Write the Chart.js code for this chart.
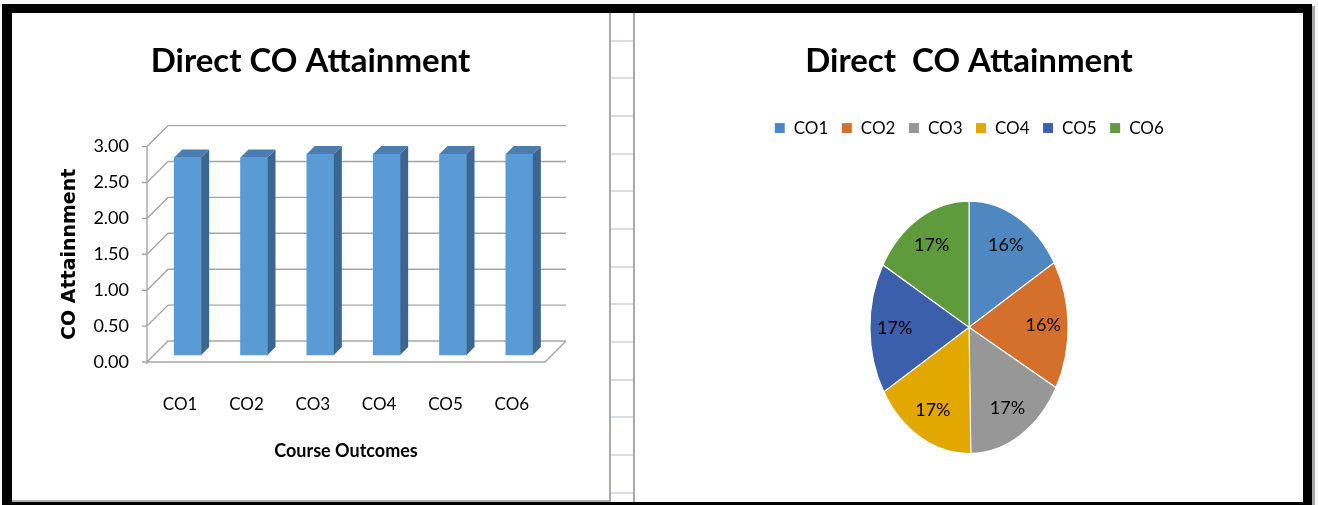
<!DOCTYPE html>
<html>
<head>
<meta charset="utf-8">
<script src="https://cdn.jsdelivr.net/npm/chart.js@4.4.1/dist/chart.umd.min.js"></script>
<style>
  html, body { margin:0; padding:0; }
  body { width:1318px; height:505px; overflow:hidden; background:#f6f6f6; position:relative; }
  .abs { position:absolute; }
  #frame { left:2px; top:4px; width:1310px; height:501px; background:#000; }
  #shadow { left:1312px; top:6px; width:3px; height:499px; background:#a8a8a8; }
  #lp { left:12px; top:13px; width:597px; height:487px; background:#fff; border-right:2px solid #a9a9a9; border-bottom:2px solid #b0b0b0; overflow:hidden; }
  #gap { left:611px; top:13px; width:22px; height:489px; background-color:#fff;
         background-image:repeating-linear-gradient(to bottom, transparent 0px, transparent 26.67px, #d9dde8 26.67px, #d9dde8 28.67px, transparent 28.67px, transparent 37.67px); }
  #gapline { left:633px; top:13px; width:2px; height:489px; background:#a9a9a9; }
  #rp { left:635px; top:13px; width:668px; height:489px; background:#fff; overflow:hidden; }
  canvas { display:block; }
</style>
</head>
<body>
<div id="frame" class="abs"></div>
<div id="shadow" class="abs"></div>
<div id="lp" class="abs"><canvas id="barChart" width="597" height="487"></canvas></div>
<div id="gap" class="abs"></div>
<div id="gapline" class="abs"></div>
<div id="rp" class="abs"><canvas id="pieChart" width="668" height="495"></canvas></div>
<script>
// ---- data ----
const categories = ['CO1', 'CO2', 'CO3', 'CO4', 'CO5', 'CO6'];
const attainment = [2.75, 2.75, 2.80, 2.80, 2.80, 2.80];
const yTicks = [0, 0.5, 1.0, 1.5, 2.0, 2.5, 3.0];
const barTitle = 'Direct CO Attainment';
const pieTitle = 'Direct  CO Attainment';
const yAxisTitle = 'CO Attainnment';
const xAxisTitle = 'Course Outcomes';
const sliceColors = ['#4f87c0', '#d4702b', '#979797', '#e3a800', '#3b5fab', '#5f9a3c'];

// ---- styles ----
const FONT = 'Lato';
const barFront = '#5b9bd5', barSide = '#3a6690', barTop = '#4a7db2';
const gridColor = '#a6a6a6';
const DEPTH = 21;          // back-wall offset of the 3D frame
const BAR_SHIFT = [7.5, -7];
const BAR_DEPTH = 8;
const yStretch = 1.275;

const bar3d = {
  id: 'bar3d',
  beforeDatasetsDraw(chart) {
    const { ctx, chartArea: { left, right }, scales: { y } } = chart;
    const yTop = y.getPixelForValue(y.max), y0 = y.getPixelForValue(0);
    ctx.save();
    ctx.strokeStyle = gridColor;
    ctx.lineWidth = 1.4;
    ctx.beginPath();
    ctx.moveTo(left, yTop); ctx.lineTo(left, y0 + 2);
    y.ticks.forEach(t => {
      const py = y.getPixelForValue(t.value);
      ctx.moveTo(left - 5, py); ctx.lineTo(left, py);
      ctx.moveTo(left, py); ctx.lineTo(left + DEPTH, py - DEPTH); ctx.lineTo(right + DEPTH, py - DEPTH);
    });
    ctx.moveTo(left, y0); ctx.lineTo(right, y0); ctx.lineTo(right + DEPTH, y0 - DEPTH);
    ctx.stroke();
    ctx.restore();
    ctx.save();
    ctx.translate(BAR_SHIFT[0], BAR_SHIFT[1]);
  },
  afterDatasetsDraw(chart) {
    const ctx = chart.ctx, d = BAR_DEPTH;
    chart.getDatasetMeta(0).data.forEach(b => {
      const l = b.x - b.width / 2, r = b.x + b.width / 2, t = b.y, bt = b.base;
      ctx.fillStyle = barSide;
      ctx.beginPath();
      ctx.moveTo(r, bt); ctx.lineTo(r, t); ctx.lineTo(r + d, t - d); ctx.lineTo(r + d, bt - d);
      ctx.closePath(); ctx.fill();
      ctx.fillStyle = barTop;
      ctx.beginPath();
      ctx.moveTo(l, t); ctx.lineTo(r, t); ctx.lineTo(r + d, t - d); ctx.lineTo(l + d, t - d);
      ctx.closePath(); ctx.fill();
    });
    ctx.restore();
  }
};

new Chart(document.getElementById('barChart'), {
  type: 'bar',
  data: {
    labels: categories,
    datasets: [{ data: attainment, backgroundColor: barFront, borderWidth: 0,
                 barThickness: 27, clip: false }]
  },
  options: {
    responsive: false,
    animation: false,
    layout: { padding: { left: 64, right: 64, top: 0, bottom: 0 } },
    plugins: {
      legend: { display: false },
      tooltip: { enabled: false },
      title: { display: true, text: barTitle, color: '#000',
               font: { family: FONT, size: 33, weight: 'bold' },
               padding: { top: 29, bottom: 65 } }
    },
    scales: {
      x: {
        grid: { display: false, drawTicks: false },
        border: { display: false },
        ticks: { font: { family: FONT, size: 17 }, color: '#000', padding: 32 },
        title: { display: true, text: xAxisTitle, color: '#000',
                 font: { family: FONT, size: 18, weight: 'bold' },
                 padding: { top: 0, bottom: 38 } },
        afterFit(s) { s.height = 138; }
      },
      y: {
        min: 0, max: 3,
        grid: { display: false, drawTicks: false },
        border: { display: false },
        afterBuildTicks(s) { s.ticks = yTicks.map(v => ({ value: v })); },
        ticks: { font: { family: FONT, size: 18 }, color: '#000', padding: 18,
                 callback: v => Number(v).toFixed(2) },
        title: { display: true, text: yAxisTitle, color: '#000',
                 font: { family: 'DejaVu Sans', size: 19, weight: 'bold' },
                 padding: { top: -17, bottom: 0 } },
        afterFit(s) { s.width = 71; }
      }
    }
  },
  plugins: [bar3d]
});

const ellipsePie = {
  id: 'ellipsePie',
  beforeDatasetsDraw(chart) {
    const a = chart.getDatasetMeta(0).data[0];
    const ctx = chart.ctx;
    ctx.save();
    ctx.translate(a.x, a.y);
    ctx.scale(1, yStretch);
    ctx.translate(-a.x, -a.y);
  },
  afterDatasetsDraw(chart) {
    const ctx = chart.ctx;
    ctx.restore();
    const meta = chart.getDatasetMeta(0);
    const vals = chart.data.datasets[0].data;
    const total = vals.reduce((s, v) => s + v, 0);
    ctx.save();
    ctx.font = '18px ' + FONT;
    ctx.fillStyle = '#000';
    ctx.textAlign = 'center';
    ctx.textBaseline = 'middle';
    meta.data.forEach((arc, i) => {
      const mid = (arc.startAngle + arc.endAngle) / 2;
      const r = arc.outerRadius * 0.75;
      ctx.fillText(Math.round(vals[i] / total * 100) + '%',
                   arc.x + Math.cos(mid) * r, arc.y + Math.sin(mid) * r * yStretch);
    });
    ctx.restore();
  }
};

new Chart(document.getElementById('pieChart'), {
  type: 'pie',
  data: {
    labels: categories,
    datasets: [{ data: attainment, backgroundColor: sliceColors, borderColor: '#fff', borderWidth: 1 }]
  },
  options: {
    responsive: false,
    animation: false,
    radius: 99,
    layout: { padding: 0 },
    plugins: {
      tooltip: { enabled: false },
      title: { display: true, text: pieTitle, color: '#000',
               font: { family: FONT, size: 33, weight: 'bold' },
               padding: { top: 29, bottom: 25 } },
      legend: { display: true, position: 'top',
                labels: { font: { family: FONT, size: 17 }, color: '#000',
                          boxWidth: 11, boxHeight: 11, padding: 13 } }
    }
  },
  plugins: [ellipsePie]
});
</script>
</body>
</html>
